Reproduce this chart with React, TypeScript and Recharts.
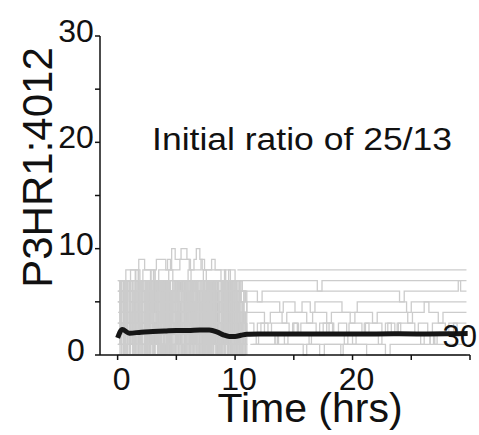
import React from "react"
import { LineChart, Line, XAxis, YAxis, ReferenceDot, LabelList, Label } from "recharts"

const FONT = "'Liberation Sans', Arial, sans-serif"
const GRAY = "#cccccc"

// time grids (hrs) for the fast-switching early phase
const burstGridA = [0, 0.2, 0.5, 0.7, 1.0, 1.3, 1.5, 1.8, 2.0, 2.3, 2.6, 2.8, 3.1, 3.3, 3.6, 3.9, 4.1, 4.4, 4.6, 4.9, 5.2, 5.4, 5.7, 5.9, 6.2, 6.5, 6.7, 7.0, 7.2, 7.5, 7.8, 8.0, 8.3, 8.5, 8.8, 9.1, 9.3, 9.6, 9.8, 10.1, 10.4, 10.6, 10.9]
const burstGridB = [0.1, 0.35, 0.6, 0.85, 1.1, 1.4, 1.65, 1.9, 2.15, 2.45, 2.7, 2.95, 3.2, 3.5, 3.75, 4.0, 4.25, 4.5, 4.8, 5.05, 5.3, 5.55, 5.8, 6.1, 6.35, 6.6, 6.85, 7.1, 7.4, 7.65, 7.9, 8.15, 8.4, 8.7, 8.95, 9.2, 9.45, 9.7, 10.0, 10.25, 10.5, 10.75, 11.0]
const burstGridC = [0.05, 0.3, 0.55, 0.8, 1.05, 1.25, 1.55, 1.75, 2.05, 2.35, 2.55, 2.85, 3.05, 3.4, 3.65, 3.85, 4.15, 4.35, 4.7, 4.95, 5.15, 5.45, 5.65, 6.0, 6.25, 6.45, 6.75, 6.95, 7.3, 7.55, 7.75, 8.05, 8.25, 8.6, 8.85, 9.05, 9.35, 9.55, 9.9, 10.15, 10.35, 10.65, 10.85]

// early phase traces (ratio values)
const burstA1 = [5, 7, 6, 7, 5, 6, 7, 7, 6, 5, 7, 6, 7, 5, 6, 7, 6, 7, 7, 5, 6, 7, 6, 5, 7, 6, 7, 7, 6, 5, 7, 6, 7, 6, 5, 7, 6, 7, 5, 6, 7, 6, 5]
const burstA2 = [2, 6, 1, 7, 3, 0, 5, 7, 2, 4, 6, 1, 3, 7, 0, 5, 2, 6, 3, 7, 1, 4, 6, 2, 0, 7, 3, 5, 1, 6, 2, 7, 4, 0, 3, 6, 1, 5, 2, 7, 3, 1, 4]
const burstA3 = [0, 2, 1, 3, 0, 1, 2, 0, 3, 1, 2, 0, 1, 3, 2, 0, 1, 2, 3, 0, 2, 1, 0, 3, 1, 2, 0, 1, 2, 3, 0, 1, 2, 0, 1, 3, 2, 0, 1, 2, 0, 1, 2]
const burstA4 = [3, 5, 4, 6, 2, 5, 3, 6, 4, 2, 5, 6, 3, 4, 6, 2, 5, 3, 6, 4, 5, 2, 6, 3, 4, 5, 2, 6, 4, 3, 5, 6, 2, 4, 5, 3, 6, 2, 4, 5, 3, 4, 3]
const burstA5 = [6, 7, 7, 8, 8, 8, 7, 9, 9, 8, 8, 7, 8, 9, 9, 9, 8, 8, 10, 9, 9, 10, 10, 9, 8, 9, 10, 9, 8, 8, 8, 9, 8, 8, 7, 8, 8, 7, 7, 6, 7, 6, 5]
const burstA6 = [1, 4, 0, 3, 5, 2, 0, 4, 1, 3, 5, 0, 2, 4, 1, 5, 3, 0, 2, 5, 1, 3, 4, 0, 2, 5, 1, 3, 0, 4, 2, 5, 1, 3, 0, 4, 2, 1, 5, 0, 3, 2, 1]
const burstA7 = [2, 1, 3, 2, 1, 6, 2, 1, 3, 2, 7, 1, 2, 3, 1, 2, 6, 1, 3, 2, 1, 2, 7, 3, 1, 2, 1, 5, 2, 3, 1, 2, 6, 1, 2, 3, 1, 2, 7, 1, 2, 3, 2]
const burstA8 = [0, 0, 1, 0, 2, 0, 0, 1, 0, 3, 0, 1, 0, 0, 2, 0, 1, 0, 0, 1, 0, 2, 0, 0, 1, 0, 0, 3, 0, 1, 0, 0, 2, 0, 1, 0, 0, 1, 0, 2, 0, 1, 0]
const burstA9 = [7, 4, 6, 3, 7, 5, 4, 7, 6, 3, 5, 7, 4, 6, 7, 3, 5, 6, 4, 7, 5, 3, 6, 7, 4, 5, 7, 3, 6, 4, 7, 5, 3, 6, 7, 4, 5, 6, 3, 7, 5, 4, 3]
const burstB1 = [1, 3, 2, 4, 1, 2, 3, 1, 4, 2, 3, 1, 2, 4, 3, 1, 2, 3, 1, 4, 2, 3, 1, 2, 4, 1, 3, 2, 1, 4, 2, 3, 1, 2, 3, 1, 4, 2, 1, 3, 2, 1, 2]
const burstB2 = [6, 2, 7, 4, 1, 6, 3, 7, 5, 2, 6, 4, 7, 1, 5, 3, 7, 6, 2, 4, 7, 5, 1, 6, 3, 7, 2, 5, 4, 7, 1, 6, 3, 5, 7, 2, 4, 6, 1, 3, 5, 2, 3]
const burstB3 = [0, 1, 0, 2, 1, 0, 3, 1, 0, 2, 0, 1, 3, 0, 1, 2, 0, 1, 0, 2, 3, 0, 1, 0, 2, 1, 0, 3, 1, 0, 2, 0, 1, 0, 3, 1, 2, 0, 1, 0, 2, 1, 0]
const burstB4 = [4, 7, 5, 6, 7, 4, 6, 7, 5, 7, 6, 4, 7, 5, 6, 7, 4, 6, 5, 7, 6, 7, 4, 5, 7, 6, 5, 7, 4, 6, 7, 5, 6, 4, 7, 6, 5, 7, 4, 6, 5, 4, 5]
const burstB5 = [5, 6, 7, 7, 8, 8, 8, 7, 8, 8, 8, 8, 7, 8, 8, 8, 9, 8, 8, 8, 9, 9, 9, 8, 8, 8, 8, 9, 8, 8, 8, 8, 8, 8, 8, 7, 8, 8, 7, 6, 5, 6, 5]
const burstB6 = [2, 5, 3, 1, 6, 4, 2, 7, 3, 5, 1, 6, 2, 4, 7, 3, 1, 5, 6, 2, 4, 3, 7, 1, 5, 2, 6, 4, 3, 1, 7, 2, 5, 3, 6, 1, 4, 2, 5, 3, 1, 2, 4]
const burstB7 = [3, 2, 4, 3, 2, 4, 3, 5, 2, 3, 4, 2, 3, 5, 3, 2, 4, 3, 2, 3, 5, 4, 2, 3, 4, 3, 2, 4, 5, 2, 3, 4, 3, 2, 4, 3, 5, 2, 3, 2, 4, 3, 3]
const burstB8 = [1, 0, 2, 1, 0, 1, 2, 0, 1, 0, 1, 2, 0, 1, 0, 2, 1, 0, 1, 2, 0, 1, 0, 1, 2, 0, 1, 0, 2, 1, 0, 1, 0, 2, 1, 0, 1, 2, 0, 1, 0, 1, 1]
const burstB9 = [7, 5, 7, 6, 7, 7, 5, 7, 6, 7, 4, 7, 6, 7, 5, 7, 7, 6, 7, 5, 7, 6, 7, 7, 5, 6, 7, 6, 7, 5, 7, 6, 7, 7, 5, 7, 6, 7, 6, 5, 6, 5, 4]
const burstC1 = [3, 6, 2, 7, 4, 1, 6, 3, 7, 2, 5, 7, 1, 4, 6, 3, 7, 2, 5, 1, 6, 4, 7, 3, 2, 6, 5, 1, 7, 3, 4, 6, 2, 7, 1, 5, 3, 6, 2, 4, 1, 3, 2]
const burstC2 = [5, 7, 4, 6, 7, 5, 7, 4, 6, 7, 5, 6, 7, 4, 7, 6, 5, 7, 4, 6, 7, 5, 6, 7, 4, 7, 5, 6, 7, 4, 6, 7, 5, 7, 6, 4, 7, 5, 6, 4, 5, 3, 4]
const burstC3 = [1, 2, 0, 1, 3, 1, 0, 2, 1, 0, 1, 2, 0, 3, 1, 0, 2, 1, 0, 1, 2, 0, 1, 3, 0, 1, 2, 0, 1, 0, 2, 1, 3, 0, 1, 2, 0, 1, 0, 2, 1, 0, 1]
const burstC4 = [2, 4, 6, 3, 5, 2, 7, 4, 1, 6, 3, 5, 2, 7, 4, 6, 1, 3, 7, 5, 2, 4, 6, 3, 7, 1, 5, 2, 6, 4, 3, 7, 2, 5, 1, 6, 4, 2, 5, 3, 2, 4, 3]
const burstC5 = [4, 3, 5, 4, 6, 3, 4, 5, 3, 6, 4, 5, 3, 4, 6, 5, 3, 4, 5, 6, 3, 4, 5, 3, 6, 4, 5, 4, 3, 6, 5, 4, 3, 5, 4, 6, 3, 4, 5, 3, 4, 3, 2]
const burstC6 = [7, 6, 7, 7, 6, 7, 8, 7, 7, 6, 7, 8, 7, 7, 6, 7, 7, 8, 7, 7, 6, 7, 7, 8, 7, 6, 7, 7, 8, 7, 7, 6, 7, 7, 7, 6, 7, 7, 6, 7, 6, 6, 5]
const burstC7 = [0, 3, 1, 0, 4, 2, 0, 1, 5, 0, 2, 1, 0, 3, 0, 1, 4, 0, 2, 0, 1, 3, 0, 1, 5, 0, 2, 0, 1, 4, 0, 2, 1, 0, 3, 0, 1, 2, 0, 4, 0, 1, 0]
const burstC8 = [2, 7, 3, 6, 1, 5, 7, 2, 6, 3, 7, 4, 1, 6, 2, 7, 5, 3, 6, 1, 7, 4, 2, 5, 7, 3, 6, 1, 4, 7, 2, 5, 3, 7, 6, 2, 4, 7, 1, 5, 3, 2, 1]
const burstC9 = [6, 4, 5, 7, 3, 6, 5, 7, 4, 6, 3, 7, 5, 4, 6, 7, 3, 5, 6, 4, 7, 3, 6, 5, 4, 7, 6, 3, 5, 7, 4, 6, 5, 3, 7, 4, 6, 5, 3, 6, 4, 3, 4]

// late phase traces: [time, ratio] switch points
const tailA = [[10.2, 8], [29.7, 8]]
const tailB = [[10.4, 7], [17.0, 6], [17.4, 7], [29.2, 6], [29.7, 6]]
const tailC = [[10.6, 6], [11.9, 5], [12.3, 6], [24.0, 5], [24.4, 6], [29.0, 7], [29.7, 7]]
const tailD = [[10.8, 5], [13.8, 4], [14.1, 5], [15.1, 4], [15.7, 5], [16.4, 4], [16.8, 5], [19.1, 4], [20.4, 5], [24.6, 4], [25.0, 5], [29.7, 5]]
const tailE = [[11.0, 4], [12.5, 3], [13.0, 4], [14.0, 3], [14.4, 4], [16.1, 3], [16.6, 4], [17.8, 3], [18.2, 4], [19.8, 3], [20.2, 4], [21.7, 3], [22.1, 4], [24.7, 3], [25.1, 4], [26.1, 5], [26.5, 4], [27.3, 3], [27.7, 4], [29.7, 4]]
const tailF = [[11.2, 3], [11.6, 2], [11.9, 3], [12.8, 2], [13.1, 3], [14.6, 2], [14.9, 3], [15.4, 2], [15.6, 3], [16.9, 2], [17.2, 3], [18.4, 2], [18.8, 3], [19.5, 2], [19.7, 3], [20.8, 2], [21.1, 3], [22.5, 2], [22.8, 3], [23.6, 2], [23.9, 3], [25.3, 2], [25.6, 3], [26.4, 2], [26.8, 3], [27.9, 2], [28.2, 3], [29.7, 3]]
const tailG = [[11.1, 2], [11.8, 1], [12.0, 2], [13.4, 1], [13.7, 2], [15.0, 3], [15.3, 2], [16.3, 1], [16.5, 2], [18.0, 3], [18.3, 2], [19.3, 1], [19.6, 2], [21.0, 3], [21.4, 2], [22.2, 1], [22.5, 2], [23.8, 3], [24.1, 2], [25.8, 1], [26.1, 2], [26.6, 1], [27.0, 2], [28.6, 3], [28.9, 2], [29.7, 2]]
const tailH = [[10.9, 2], [12.2, 3], [12.5, 2], [14.2, 1], [14.5, 2], [17.5, 3], [17.8, 2], [20.0, 1], [20.3, 2], [23.0, 3], [23.3, 2], [26.9, 1], [27.2, 2], [29.7, 2]]
const tailI = [[11.3, 1], [13.4, 2], [13.6, 1], [15.8, 0], [16.1, 1], [19.0, 0], [19.2, 1], [22.8, 0], [23.2, 1], [26.6, 2], [26.9, 1], [29.7, 1]]
const tailJ = [[11.5, 1], [17.2, 0], [17.6, 1], [21.2, 0], [29.7, 0]]

// mean over the 30 runs
const meanTimes = [0, 0.4, 1.0, 2, 3, 4, 5, 6, 7, 7.8, 8.5, 9, 9.5, 10, 10.5, 11, 12, 14, 16, 18, 20, 22, 24, 26, 28, 29.8]
const meanValues = [1.6, 2.4, 2.05, 2.15, 2.2, 2.25, 2.3, 2.3, 2.35, 2.35, 2.15, 1.9, 1.75, 1.75, 1.85, 1.95, 1.97, 1.98, 1.98, 1.97, 1.98, 1.98, 1.99, 1.98, 2.0, 2.02]
const runCount = 30

const xTicks = [0, 5, 10, 15, 20, 25, 30]
const yTicks = [0, 5, 10, 15, 20, 25, 30]

type Pt = { t: number; v: number }
const zip = (times: number[], values: number[]): Pt[] =>
  values.slice(0, times.length).map((v, i) => ({ t: times[i], v }))
const pairs = (p: number[][]): Pt[] => p.map(([t, v]) => ({ t, v }))

const traces: Pt[][] = [
  ...[burstA1, burstA2, burstA3, burstA4, burstA5, burstA6, burstA7, burstA8, burstA9].map((v) => zip(burstGridA, v)),
  ...[burstB1, burstB2, burstB3, burstB4, burstB5, burstB6, burstB7, burstB8, burstB9].map((v) => zip(burstGridB, v)),
  ...[burstC1, burstC2, burstC3, burstC4, burstC5, burstC6, burstC7, burstC8, burstC9].map((v) => zip(burstGridC, v)),
  ...[tailA, tailB, tailC, tailD, tailE, tailF, tailG, tailH, tailI, tailJ].map(pairs),
]
const meanData = zip(meanTimes, meanValues)

const YTick = (props: any) => {
  const { x, y, payload } = props
  if (payload.value % 10 !== 0) return <g />
  return (
    <text x={x - 17} y={y + 6} textAnchor="middle" fontSize={32} fontFamily={FONT} fill="#111">
      {payload.value}
    </text>
  )
}

const XTick = (props: any) => {
  const { x, y, payload } = props
  if (payload.value % 10 !== 0 || payload.value === 30) return <g />
  return (
    <text x={x + 4} y={y + 28} textAnchor="middle" fontSize={32} fontFamily={FONT} fill="#111">
      {payload.value}
    </text>
  )
}

const EndLabel = (props: any) => {
  const { x, y, index } = props
  if (index !== meanData.length - 1) return null
  return (
    <text x={x - 8} y={y + 13} textAnchor="middle" fontSize={31} fontFamily={FONT} fill="#111">
      {runCount}
    </text>
  )
}

export default function App() {
  return (
    <div style={{ position: "absolute", left: 0, top: 0, background: "#fff" }}>
      <LineChart width={479} height={435} margin={{ top: 36, right: 9, bottom: 20, left: 0 }}>
        <XAxis
          dataKey="t"
          type="number"
          domain={[-1.5, 30]}
          ticks={xTicks}
          allowDataOverflow
          height={60}
          stroke="#111"
          strokeWidth={1.5}
          tickSize={5}
          tick={<XTick />}
        >
          <Label
            content={(p: any) => {
              const vb = p.viewBox
              return (
                <text x={vb.x + vb.width / 2 + 25} y={vb.y + 67} textAnchor="middle" fontSize={41} fontFamily={FONT} fill="#111">
                  Time (hrs)
                </text>
              )
            }}
          />
        </XAxis>
        <YAxis
          type="number"
          domain={[0, 30]}
          ticks={yTicks}
          width={100}
          stroke="#111"
          strokeWidth={1.5}
          tickSize={5}
          tick={<YTick />}
        >
          <Label
            content={(p: any) => {
              const vb = p.viewBox
              const cx = 52
              const cy = vb.y + vb.height / 2 - 28
              return (
                <text x={cx} y={cy} transform={`rotate(-90, ${cx}, ${cy})`} textAnchor="middle" fontSize={42} fontFamily={FONT} fill="#111">
                  P3HR1:4012
                </text>
              )
            }}
          />
        </YAxis>
        {traces.map((pts, i) => (
          <Line
            key={i}
            data={pts}
            dataKey="v"
            type="stepAfter"
            stroke={GRAY}
            strokeWidth={1.3}
            dot={false}
            isAnimationActive={false}
          />
        ))}
        <Line
          data={meanData}
          dataKey="v"
          type="monotone"
          stroke="#161616"
          strokeWidth={5}
          dot={false}
          isAnimationActive={false}
        >
          <LabelList dataKey="v" content={<EndLabel />} />
        </Line>
        <ReferenceDot
          x={15.7}
          y={20.5}
          r={0}
          fill="none"
          stroke="none"
          label={(p: any) => {
            const vb = p.viewBox
            return (
              <text
                x={vb.x + (vb.width || 0) / 2}
                y={vb.y + 13}
                textAnchor="middle"
                fontSize={31}
                fontFamily={FONT}
                fill="#111"
                textLength={300}
                lengthAdjust="spacingAndGlyphs"
              >
                Initial ratio of 25/13
              </text>
            )
          }}
        />
      </LineChart>
    </div>
  )
}
